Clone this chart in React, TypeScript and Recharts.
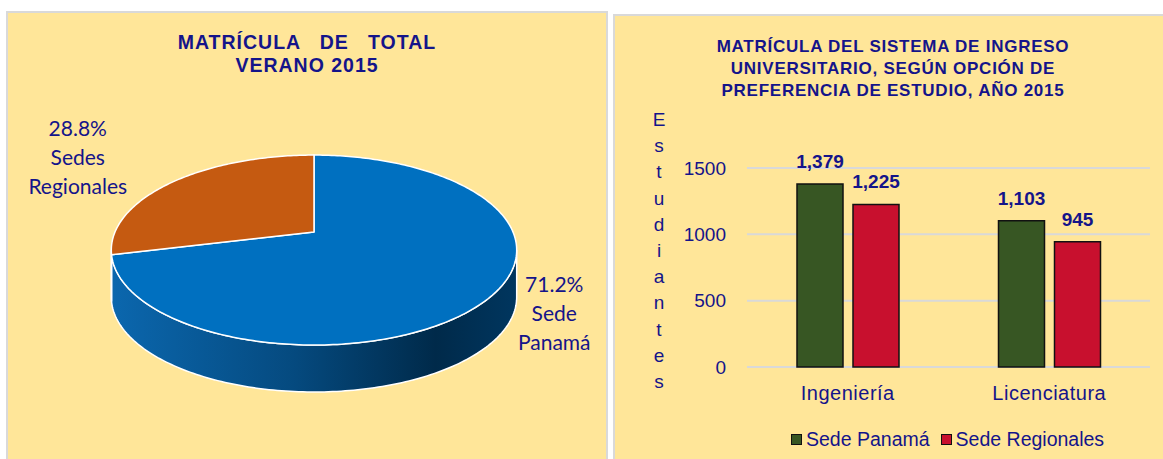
import React from 'react';
import {
  PieChart,
  Pie,
  BarChart,
  Bar,
  XAxis,
  YAxis,
  CartesianGrid,
  Legend,
  LabelList,
} from 'recharts';

// pie: matrícula total verano 2015
const pieNames = ['Sede Panamá', 'Sedes Regionales'];
const piePercents = [71.2, 28.8];
const pieColors = ['#0070C0', '#C55A11'];
const pieSideColors = ['url(#sideBlue)', '#8a3d0c'];

// bars: opción de preferencia de estudio 2015
const categories = ['Ingeniería', 'Licenciatura'];
const sedePanama = [1379, 1103];
const sedeRegionales = [1225, 945];
const yTicks = [0, 500, 1000, 1500];

const NAVY = '#14148a';
const BG = '#FFE699';
const ARIAL = '"Liberation Sans", Arial, sans-serif';

const pieData = pieNames.map((name, i) => ({ name, value: piePercents[i] }));
const barData = categories.map((c, i) => ({
  cat: c,
  panama: sedePanama[i],
  regionales: sedeRegionales[i],
}));

// fake 3d tilt: perspective projection of the pie disc
const K = 0.19;
const RATIO = 0.46;
const DEPTH = 47;
const TAN = (Math.asin(K) * 180) / Math.PI;

function proj(cx: number, cy: number, r: number, deg: number, dy = 0) {
  const a = (deg * Math.PI) / 180;
  const X = Math.cos(a);
  const Y = Math.sin(a);
  const w = 1 + K * Y;
  return [cx + (r * X) / w, cy - (r * RATIO * Y) / w + dy];
}

function arc(cx: number, cy: number, r: number, a0: number, a1: number, dy = 0) {
  const n = Math.max(2, Math.ceil(Math.abs(a1 - a0)));
  const pts: string[] = [];
  for (let i = 0; i <= n; i++) {
    const [x, y] = proj(cx, cy, r, a0 + ((a1 - a0) * i) / n, dy);
    pts.push(`${x.toFixed(2)},${y.toFixed(2)}`);
  }
  return pts;
}

const renderSide = (p: any) => {
  const { cx, cy, outerRadius, startAngle, endAngle, index } = p;
  const lo = Math.min(startAngle, endAngle);
  const hi = Math.max(startAngle, endAngle);
  const paths: React.ReactNode[] = [];
  for (let s = -720; s <= 720; s += 360) {
    const a = Math.max(lo, 180 + TAN + s);
    const b = Math.min(hi, 360 - TAN + s);
    if (b > a) {
      const top = arc(cx, cy, outerRadius, a, b);
      const bottom = arc(cx, cy, outerRadius, b, a, DEPTH);
      paths.push(
        <path
          key={s}
          d={`M${top.join('L')}L${bottom.join('L')}Z`}
          fill={pieSideColors[index]}
          stroke="#fff"
          strokeWidth={1.5}
        />
      );
    }
  }
  const w = outerRadius * 1.02;
  return (
    <g>
      {index === 0 && (
        <defs>
          <linearGradient id="sideBlue" gradientUnits="userSpaceOnUse" x1={cx - w} y1={0} x2={cx + w} y2={0}>
            <stop offset="0" stopColor="#0b67ae" />
            <stop offset="0.45" stopColor="#054a7f" />
            <stop offset="0.8" stopColor="#002a4a" />
            <stop offset="1" stopColor="#00365f" />
          </linearGradient>
        </defs>
      )}
      {paths}
    </g>
  );
};

const renderTop = (p: any) => {
  const { cx, cy, outerRadius, startAngle, endAngle, index } = p;
  const pts = arc(cx, cy, outerRadius, startAngle, endAngle);
  return (
    <path
      d={`M${cx},${cy}L${pts.join('L')}Z`}
      fill={pieColors[index]}
      stroke="#fff"
      strokeWidth={1.5}
      strokeLinejoin="round"
    />
  );
};

const renderPieText = (p: any) => {
  const { cx, cy, midAngle, name, value } = p;
  const a = (midAngle * Math.PI) / 180;
  const x = cx + 2 + 303 * Math.cos(a);
  const y = cy + 2.5 - 126 * Math.sin(a);
  const lines = [`${value.toFixed(1)}%`, ...String(name).split(' ')];
  return (
    <text
      x={x}
      y={y}
      textAnchor="middle"
      fill={NAVY}
      style={{ fontFamily: 'Lato, sans-serif', fontSize: 21 }}
    >
      {lines.map((l, i) => (
        <tspan key={i} x={x} y={y + (i - 1) * 29} dominantBaseline="central">
          {l}
        </tspan>
      ))}
    </text>
  );
};

const renderLegend = (props: any) => {
  const { payload } = props;
  return (
    <div style={{ display: 'flex', alignItems: 'center', height: 24, fontFamily: ARIAL, fontSize: 19.5, color: NAVY, whiteSpace: 'nowrap' }}>
      {payload.map((e: any, i: number) => (
        <div key={i} style={{ display: 'flex', alignItems: 'center', marginRight: 11 }}>
          <span
            style={{
              display: 'inline-block',
              width: 9,
              height: 9,
              background: e.color,
              border: '1.5px solid #111',
              marginRight: 4,
            }}
          />
          <span>{e.value}</span>
        </div>
      ))}
    </div>
  );
};

const titleStyle: React.CSSProperties = {
  position: 'absolute',
  fontFamily: ARIAL,
  fontWeight: 'bold',
  color: NAVY,
  textAlign: 'center',
  whiteSpace: 'pre',
};

export default function App() {
  return (
    <div
      style={{
        position: 'absolute',
        left: 0,
        top: 0,
        width: 1163,
        height: 459,
        overflow: 'hidden',
        background: '#fff',
      }}
    >
      {/* left panel */}
      <div
        style={{
          position: 'absolute',
          left: 6,
          top: 11,
          width: 598,
          height: 460,
          background: BG,
          border: '2px solid #d9d9d9',
        }}
      />
      <div style={{ ...titleStyle, left: 107, top: 31, width: 400, fontSize: 19.5, lineHeight: '23px', letterSpacing: 1 }}>
        {'MATRÍCULA   DE   TOTAL\nVERANO 2015'}
      </div>
      <div style={{ position: 'absolute', left: 6, top: 11 }}>
        <PieChart width={600} height={448} margin={{ top: 0, right: 0, bottom: 0, left: 0 }}>
          <Pie
            data={pieData}
            dataKey="value"
            nameKey="name"
            cx={308}
            cy={221}
            outerRadius={199}
            startAngle={90}
            endAngle={-270}
            fill="transparent"
            stroke="none"
            label={renderSide}
            labelLine={false}
            legendType="none"
            isAnimationActive={false}
          />
          <Pie
            data={pieData}
            dataKey="value"
            nameKey="name"
            cx={308}
            cy={221}
            outerRadius={199}
            startAngle={90}
            endAngle={-270}
            fill="transparent"
            stroke="none"
            label={renderTop}
            labelLine={false}
            legendType="none"
            isAnimationActive={false}
          />
          <Pie
            data={pieData}
            dataKey="value"
            nameKey="name"
            cx={308}
            cy={221}
            outerRadius={199}
            startAngle={90}
            endAngle={-270}
            fill="transparent"
            stroke="none"
            label={renderPieText}
            labelLine={false}
            legendType="none"
            isAnimationActive={false}
          />
        </PieChart>
      </div>

      {/* right panel */}
      <div
        style={{
          position: 'absolute',
          left: 613,
          top: 14,
          width: 560,
          height: 460,
          background: BG,
          border: '2px solid #d9d9d9',
        }}
      />
      <div style={{ ...titleStyle, left: 693, top: 36, width: 400, fontSize: 17, lineHeight: '22px', letterSpacing: 0.75 }}>
        {'MATRÍCULA DEL SISTEMA DE INGRESO\nUNIVERSITARIO, SEGÚN OPCIÓN DE\nPREFERENCIA DE ESTUDIO, AÑO 2015'}
      </div>
      <div
        style={{
          position: 'absolute',
          left: 649,
          top: 107,
          width: 20,
          textAlign: 'center',
          fontFamily: ARIAL,
          fontSize: 19,
          lineHeight: '26.2px',
          color: NAVY,
        }}
      >
        {'Estudiantes'.split('').map((ch, i) => (
          <div key={i}>{ch}</div>
        ))}
      </div>
      <div style={{ position: 'absolute', left: 613, top: 14 }}>
        <BarChart
          width={550}
          height={445}
          data={barData}
          margin={{ top: 154, right: 13, bottom: 62, left: 74 }}
          barSize={46}
          barGap={10}
        >
          <CartesianGrid vertical={false} stroke="#d9d9d9" strokeWidth={2} />
          <XAxis
            dataKey="cat"
            height={30}
            axisLine={false}
            tickLine={false}
            tickSize={0}
            tickMargin={19}
            tick={{ fill: NAVY, fontSize: 20, fontFamily: ARIAL, letterSpacing: 0.5 }}
          />
          <YAxis
            width={60}
            domain={[0, 1500]}
            ticks={yTicks}
            axisLine={false}
            tickLine={false}
            tickSize={0}
            tickMargin={21}
            tick={{ fill: NAVY, fontSize: 19, fontFamily: ARIAL }}
          />
          <Legend
            layout="horizontal"
            verticalAlign="middle"
            align="center"
            wrapperStyle={{ top: 413, left: 178, width: 'auto' }}
            content={renderLegend}
          />
          <Bar dataKey="panama" name="Sede Panamá" fill="#375623" stroke="#111" strokeWidth={1.5} isAnimationActive={false}>
            <LabelList
              dataKey="panama"
              position="top"
              offset={16}
              formatter={(v: any) => Number(v).toLocaleString('en-US')}
              style={{ fill: NAVY, fontSize: 19, fontWeight: 'bold', fontFamily: ARIAL }}
            />
          </Bar>
          <Bar dataKey="regionales" name="Sede Regionales" fill="#C8102E" stroke="#111" strokeWidth={1.5} isAnimationActive={false}>
            <LabelList
              dataKey="regionales"
              position="top"
              offset={16}
              formatter={(v: any) => Number(v).toLocaleString('en-US')}
              style={{ fill: NAVY, fontSize: 19, fontWeight: 'bold', fontFamily: ARIAL }}
            />
          </Bar>
        </BarChart>
      </div>
    </div>
  );
}
